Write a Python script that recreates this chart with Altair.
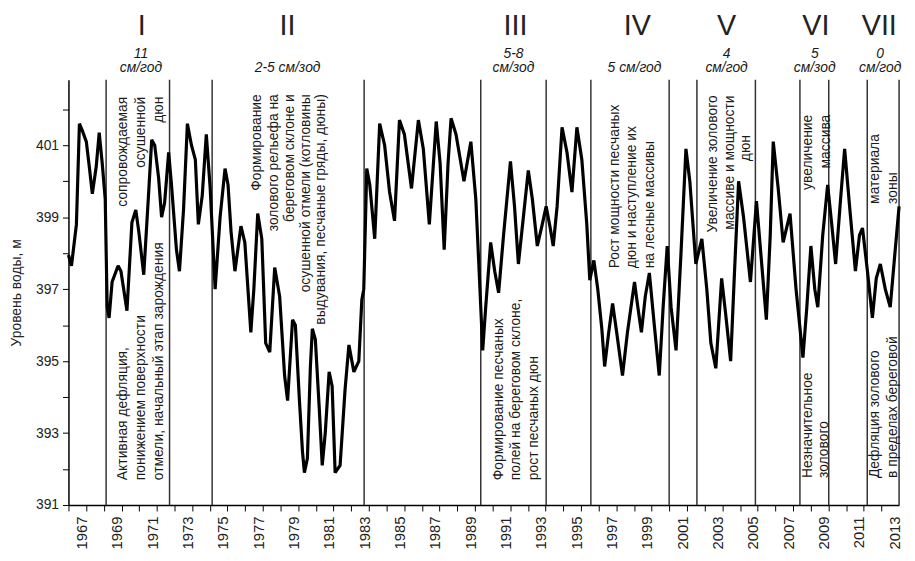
import altair as alt
import pandas as pd

# ---- water level series (decimal year, level m) ----
years = [
    1966.27, 1966.44, 1966.72, 1966.89, 1967.06, 1967.28, 1967.45, 1967.62, 1967.84, 1968.01,
    1968.18, 1968.35, 1968.46, 1968.57, 1968.74, 1969.08, 1969.24, 1969.58, 1969.86, 1970.08,
    1970.25, 1970.53, 1970.81, 1970.98, 1971.15, 1971.37, 1971.54, 1971.71, 1971.94, 1972.10,
    1972.38, 1972.55, 1972.78, 1973.00, 1973.23, 1973.45, 1973.62, 1973.84, 1974.07, 1974.29,
    1974.57, 1974.85, 1975.13, 1975.30, 1975.47, 1975.69, 1976.03, 1976.25, 1976.59, 1976.76,
    1976.98, 1977.21, 1977.43, 1977.66, 1977.94, 1978.22, 1978.50, 1978.67, 1978.95, 1979.11,
    1979.34, 1979.51, 1979.62, 1979.79, 1979.96, 1980.07, 1980.24, 1980.46, 1980.63, 1980.80,
    1981.02, 1981.19, 1981.36, 1981.64, 1981.92, 1982.14, 1982.42, 1982.70, 1982.87, 1982.98,
    1983.15, 1983.32, 1983.60, 1983.88, 1984.16, 1984.44, 1984.72, 1985.00, 1985.28, 1985.68,
    1986.07, 1986.35, 1986.69, 1987.08, 1987.30, 1987.53, 1987.75, 1987.92, 1988.20, 1988.65,
    1989.04, 1989.32, 1989.49, 1989.71, 1989.88, 1990.16, 1990.39, 1990.61, 1990.89, 1991.28,
    1991.51, 1991.73, 1992.01, 1992.29, 1992.52, 1992.80, 1993.08, 1993.30, 1993.53, 1993.70,
    1993.92, 1994.20, 1994.48, 1994.76, 1995.04, 1995.32, 1995.60, 1995.77, 1996.00, 1996.22,
    1996.45, 1996.61, 1996.84, 1997.06, 1997.29, 1997.62, 1997.90, 1998.30, 1998.46, 1998.69,
    1998.91, 1999.14, 1999.42, 1999.70, 1999.92, 2000.15, 2000.37, 2000.65, 2000.93, 2001.21,
    2001.43, 2001.77, 2002.11, 2002.39, 2002.62, 2002.90, 2003.06, 2003.23, 2003.46, 2003.74,
    2003.96, 2004.19, 2004.47, 2004.86, 2005.20, 2005.48, 2005.76, 2005.98, 2006.15, 2006.43,
    2006.71, 2007.10, 2007.44, 2007.83, 2008.05, 2008.28, 2008.50, 2008.67, 2008.95, 2009.23,
    2009.46, 2009.68, 2009.96, 2010.19, 2010.47, 2010.80, 2011.03, 2011.20, 2011.48, 2011.76,
    2011.98, 2012.21, 2012.49, 2012.77, 2013.00, 2013.27,
]
levels = [
    397.95, 397.65, 398.80, 401.60, 401.40, 401.10, 400.40, 399.65, 400.40, 401.35,
    400.50, 399.50, 396.50, 396.20, 397.20, 397.65, 397.50, 396.40, 398.85, 399.20,
    398.60, 397.40, 399.70, 401.15, 401.00, 400.10, 399.00, 399.40, 400.80, 399.90,
    398.10, 397.50, 399.20, 401.60, 401.00, 400.60, 398.80, 399.60, 401.30, 399.80,
    397.00, 399.00, 400.35, 399.90, 398.60, 397.50, 398.75, 398.30, 395.80, 397.00,
    399.10, 398.40, 395.50, 395.25, 397.60, 396.80, 394.60, 393.90, 396.15, 396.00,
    393.90, 392.50, 391.90, 392.30, 394.85, 395.90, 395.60, 393.70, 392.10, 393.00,
    394.70, 394.30, 391.90, 392.10, 394.20, 395.45, 394.70, 395.00, 396.70, 397.00,
    400.35, 399.90, 398.40, 401.60, 401.00, 399.70, 398.90, 401.70, 401.30, 399.80,
    401.70, 400.90, 398.80, 401.66, 400.50, 398.10, 400.50, 401.75, 401.30, 400.00,
    401.10, 399.50, 397.70, 395.30, 396.50, 398.30, 397.50, 396.90, 398.50, 400.55,
    399.30, 397.70, 399.00, 400.30, 399.50, 398.20, 398.80, 399.30, 398.70, 398.20,
    399.30, 401.50, 400.80, 399.70, 401.50, 400.60, 398.80, 397.25, 397.80, 397.00,
    395.90, 394.85, 395.80, 396.60, 395.80, 394.60, 395.80, 397.20, 396.60, 395.80,
    396.80, 397.45, 396.00, 394.60, 396.50, 398.20, 396.50, 395.30, 398.00, 400.90,
    400.00, 397.70, 398.40, 397.00, 395.50, 394.80, 396.00, 397.30, 396.30, 395.00,
    397.50, 400.00, 399.00, 397.20, 399.45, 397.80, 396.15, 398.50, 401.10, 399.80,
    398.30, 399.10, 397.00, 395.10, 396.50, 398.20, 397.00, 396.50, 398.50, 399.90,
    398.80, 397.70, 399.50, 400.90, 399.30, 397.50, 398.50, 398.70, 397.50, 396.20,
    397.30, 397.70, 397.00, 396.50, 397.80, 399.30,
]

# ---- period boundaries (decimal years) ----
boundaries = [1968.40, 1971.99, 1974.40, 1983.00, 1989.60, 1993.30, 1995.83,
              2000.26, 2001.83, 2005.14, 2007.66, 2009.29, 2011.47, 2013.27]

# ---- period names and accumulation rates above the plot ----
period_names = ["I", "II", "III", "IV", "V", "VI", "VII"]
period_x = [1970.42, 1978.67, 1991.57, 1998.46, 2003.51, 2008.56, 2012.15]
period_y = [404.06] * 7

rate_text = ["11", "см/год", "2-5 см/зод", "5-8", "см/зод", "5 см/год",
             "4", "см/год", "5", "см/зод", "0", "см/год"]
rate_x = [1970.37, 1970.37, 1978.67, 1991.45, 1991.45, 1998.30,
          2003.51, 2003.51, 2008.50, 2008.50, 2012.20, 2012.20]
rate_y = [403.43, 403.03, 403.03, 403.43, 403.03, 403.03,
          403.43, 403.03, 403.43, 403.03, 403.43, 403.03]

# ---- vertical notes: text anchored at the bottom (reads upwards) ----
up_text = ["Активная дефляция,", "понижением поверхности", "отмели,  начальный этап зарождения",
           "Формирование песчаных", "полей на береговом склоне,", "рост песчаных дюн",
           "Рост мощности песчаных", "дюн и наступление их", "на лесные массивы",
           "Незначительное", "золового",
           "материала", "зоны",
           "Дефляция золового", "в пределах береговой"]
up_x = [1969.36, 1970.37, 1971.37,
        1990.61, 1991.62, 1992.63,
        1997.17, 1998.18, 1999.19,
        2008.11, 2009.01,
        2011.92, 2012.93,
        2011.92, 2012.93]
up_y = [391.69, 391.69, 391.69,
        391.69, 391.69, 391.69,
        397.58, 397.58, 397.58,
        391.75, 391.75,
        399.37, 399.37,
        391.75, 391.75]

# ---- vertical notes anchored at the top ----
down_text = ["сопровождаемая", "осушенной", "дюн",
             "Формирование", "золового рельефа на", "береговом склоне и",
             "осушенной  отмели (котловины", "выдувания, песчаные гряды, дюны)",
             "увеличение", "массива"]
down_x = [1969.36, 1970.37, 1971.37,
          1976.93, 1977.88, 1978.83, 1979.73, 1980.57,
          2008.11, 2009.12]
down_y = [402.35, 402.35, 402.35,
          402.42, 402.42, 402.42, 402.42, 402.42,
          401.85, 401.85]

# ---- vertical notes centred ----
mid_text = ["Увеличение  золового", "массиве и мощности", "дюн"]
mid_x = [2002.73, 2003.68, 2004.63]
mid_y = [400.48, 400.52, 400.92]

x_ticks = list(range(1967, 2014))
y_ticks = list(range(391, 403))

FONT = "Liberation Sans"
INK = "#1a1a1a"

xscale = alt.Scale(domain=[1966.27, 2013.27], nice=False, zero=False)
yscale = alt.Scale(domain=[391, 402.82], nice=False, zero=False)

xaxis = alt.Axis(values=x_ticks, format="d",
                 labelExpr="datum.value % 2 == 1 ? datum.label : ''",
                 labelAngle=270, labelFontSize=15, labelFont=FONT, labelColor="#222",
                 tickOffset=-13, labelOffset=13, tickSize=6, tickColor="black",
                 domainColor="black", domainWidth=1.5, labelPadding=5, grid=False,
                 title=None, labelOverlap=False)
yaxis = alt.Axis(values=y_ticks,
                 labelExpr="datum.value % 2 == 1 ? datum.label : ''",
                 labelFontSize=14, labelFont=FONT, labelColor="#222",
                 tickSize=6, tickColor="black", domainColor="black", domainWidth=1.5,
                 labelPadding=4, grid=False, title="Уровень  воды, м",
                 titleFont=FONT, titleFontSize=14, titleFontWeight="normal",
                 titleColor="#222", titlePadding=12, labelOverlap=False)

X = alt.X("year:Q", scale=xscale, axis=xaxis)
Y = alt.Y("level:Q", scale=yscale, axis=yaxis)

series = pd.DataFrame({"year": years, "level": levels})
bounds = pd.DataFrame({"year": boundaries})
periods = pd.DataFrame({"year": period_x, "level": period_y, "t": period_names})
rates = pd.DataFrame({"year": rate_x, "level": rate_y, "t": rate_text})
ups = pd.DataFrame({"year": up_x, "level": up_y, "t": up_text})
downs = pd.DataFrame({"year": down_x, "level": down_y, "t": down_text})
mids = pd.DataFrame({"year": mid_x, "level": mid_y, "t": mid_text})

rules = alt.Chart(bounds).mark_rule(color="#333", strokeWidth=1.5).encode(x=X)

line = alt.Chart(series).mark_line(color="black", strokeWidth=3.2,
                                   strokeJoin="miter", strokeMiterLimit=2).encode(x=X, y=Y)

txt_common = dict(font=FONT, fontSize=14, color=INK, angle=270, baseline="middle")
up_layer = alt.Chart(ups).mark_text(align="left", **txt_common).encode(x=X, y=Y, text="t:N")
down_layer = alt.Chart(downs).mark_text(align="right", **txt_common).encode(x=X, y=Y, text="t:N")
mid_layer = alt.Chart(mids).mark_text(align="center", **txt_common).encode(x=X, y=Y, text="t:N")

roman = alt.Chart(periods).mark_text(font=FONT, fontSize=29, color="#222", align="center",
                                     baseline="alphabetic").encode(x=X, y=Y, text="t:N")
rate_layer = alt.Chart(rates).mark_text(font=FONT, fontSize=14, fontStyle="italic", color=INK,
                                        align="center", baseline="alphabetic").encode(x=X, y=Y, text="t:N")

chart = alt.layer(rules, up_layer, down_layer, mid_layer, line, roman, rate_layer).properties(
    width=838, height=429,
    autosize=alt.AutoSizeParams(type="none"),
    padding={"left": 61, "top": 70, "right": 8, "bottom": 46},
    background="white",
).configure_view(stroke=None)

chart.save("out.html", embed_options={"renderer": "svg", "actions": False})
